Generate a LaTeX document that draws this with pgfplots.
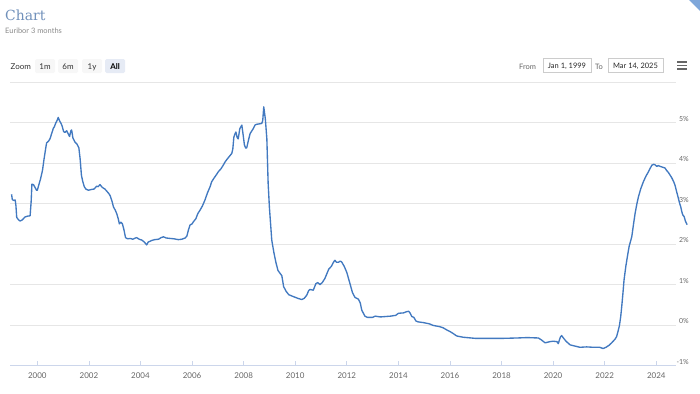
\documentclass[border=0pt]{standalone}
\usepackage{pgfplots}
\pgfplotsset{compat=1.18}
\usepackage{fontspec}
\setmainfont{Lato}
\newfontfamily\titlefont{DejaVu Serif}
\definecolor{serie}{HTML}{4279C0}
\definecolor{titlec}{HTML}{7090BA}
\definecolor{subc}{HTML}{8A8A8A}
\definecolor{gridc}{HTML}{E6E6E6}
\definecolor{axisc}{HTML}{CCD6EB}
\definecolor{labc}{HTML}{666666}
\definecolor{btnc}{HTML}{F7F7F7}
\definecolor{btnsel}{HTML}{E6EBF5}
\definecolor{boxc}{HTML}{CCCCCC}
\definecolor{cornerc}{HTML}{7FA7DA}

\pgfplotstableread{
t v
1999.00 3.23
1999.03 3.10
1999.08 3.08
1999.14 3.09
1999.17 2.95
1999.20 2.66
1999.27 2.60
1999.33 2.57
1999.42 2.60
1999.52 2.67
1999.62 2.69
1999.72 2.70
1999.76 3.05
1999.79 3.48
1999.85 3.47
1999.91 3.40
1999.97 3.33
2000.00 3.33
2000.06 3.47
2000.12 3.60
2000.20 3.82
2000.26 4.10
2000.32 4.35
2000.36 4.50
2000.44 4.55
2000.49 4.60
2000.55 4.72
2000.62 4.86
2000.66 4.90
2000.72 5.00
2000.77 5.06
2000.81 5.13
2000.86 5.05
2000.92 4.98
2000.96 4.92
2001.02 4.78
2001.07 4.76
2001.14 4.80
2001.20 4.72
2001.25 4.66
2001.30 4.80
2001.33 4.82
2001.38 4.62
2001.46 4.52
2001.54 4.47
2001.61 4.38
2001.66 4.10
2001.71 3.70
2001.76 3.55
2001.82 3.42
2001.88 3.36
2001.98 3.33
2002.10 3.35
2002.20 3.36
2002.30 3.43
2002.36 3.42
2002.43 3.47
2002.52 3.40
2002.62 3.36
2002.69 3.31
2002.77 3.25
2002.82 3.20
2002.90 3.05
2002.95 2.92
2003.02 2.84
2003.08 2.75
2003.14 2.62
2003.18 2.50
2003.24 2.54
2003.30 2.50
2003.36 2.35
2003.42 2.16
2003.50 2.13
2003.60 2.14
2003.70 2.12
2003.80 2.15
2003.85 2.16
2003.95 2.12
2004.05 2.10
2004.15 2.05
2004.24 1.98
2004.30 2.05
2004.44 2.09
2004.55 2.11
2004.70 2.12
2004.80 2.16
2004.89 2.18
2005.00 2.15
2005.15 2.14
2005.30 2.13
2005.47 2.11
2005.60 2.12
2005.73 2.15
2005.80 2.20
2005.86 2.35
2005.92 2.47
2006.00 2.50
2006.05 2.55
2006.15 2.63
2006.22 2.75
2006.31 2.84
2006.40 2.94
2006.50 3.09
2006.60 3.27
2006.70 3.42
2006.76 3.54
2006.85 3.63
2006.95 3.72
2007.02 3.79
2007.12 3.86
2007.20 3.94
2007.28 4.03
2007.36 4.10
2007.45 4.17
2007.54 4.24
2007.58 4.35
2007.62 4.64
2007.66 4.72
2007.70 4.77
2007.75 4.63
2007.79 4.60
2007.85 4.85
2007.93 4.94
2007.98 4.70
2008.03 4.45
2008.08 4.37
2008.12 4.38
2008.18 4.55
2008.25 4.73
2008.32 4.80
2008.38 4.86
2008.44 4.94
2008.50 4.96
2008.60 4.97
2008.70 4.98
2008.74 5.05
2008.78 5.39
2008.84 5.10
2008.90 4.60
2008.95 3.50
2009.00 2.90
2009.09 2.10
2009.17 1.80
2009.25 1.55
2009.33 1.35
2009.42 1.27
2009.48 1.22
2009.55 0.95
2009.65 0.83
2009.75 0.75
2009.90 0.71
2010.10 0.66
2010.25 0.63
2010.35 0.66
2010.45 0.74
2010.52 0.85
2010.57 0.88
2010.70 0.86
2010.80 1.02
2010.87 1.05
2010.96 1.00
2011.05 1.05
2011.15 1.15
2011.30 1.38
2011.40 1.45
2011.50 1.57
2011.54 1.60
2011.60 1.55
2011.67 1.55
2011.75 1.58
2011.80 1.56
2011.90 1.45
2012.00 1.30
2012.12 1.03
2012.22 0.80
2012.32 0.68
2012.45 0.64
2012.52 0.55
2012.58 0.37
2012.70 0.22
2012.80 0.19
2013.00 0.19
2013.10 0.22
2013.30 0.20
2013.50 0.21
2013.70 0.22
2013.90 0.24
2014.00 0.29
2014.20 0.30
2014.32 0.33
2014.40 0.34
2014.45 0.30
2014.52 0.21
2014.60 0.19
2014.68 0.10
2014.75 0.08
2014.97 0.06
2015.20 0.03
2015.35 -0.01
2015.60 -0.04
2015.74 -0.07
2015.90 -0.13
2016.00 -0.16
2016.15 -0.22
2016.26 -0.27
2016.50 -0.30
2016.65 -0.31
2017.00 -0.33
2017.50 -0.33
2018.00 -0.33
2018.60 -0.32
2019.00 -0.31
2019.43 -0.32
2019.55 -0.37
2019.69 -0.44
2019.88 -0.41
2020.00 -0.40
2020.15 -0.41
2020.20 -0.46
2020.28 -0.30
2020.33 -0.26
2020.40 -0.32
2020.50 -0.40
2020.66 -0.49
2020.85 -0.52
2021.04 -0.55
2021.30 -0.54
2021.56 -0.55
2021.80 -0.55
2021.94 -0.58
2022.05 -0.55
2022.17 -0.50
2022.27 -0.44
2022.40 -0.35
2022.46 -0.29
2022.52 -0.15
2022.57 -0.02
2022.62 0.20
2022.66 0.45
2022.71 0.80
2022.75 1.11
2022.82 1.45
2022.88 1.69
2022.95 1.95
2023.05 2.18
2023.12 2.50
2023.18 2.76
2023.25 3.00
2023.31 3.17
2023.40 3.37
2023.50 3.54
2023.60 3.68
2023.70 3.79
2023.77 3.88
2023.83 3.95
2023.90 3.97
2023.95 3.96
2024.02 3.92
2024.08 3.94
2024.15 3.92
2024.25 3.90
2024.34 3.88
2024.40 3.82
2024.47 3.77
2024.54 3.70
2024.60 3.64
2024.67 3.55
2024.73 3.45
2024.78 3.32
2024.85 3.15
2024.90 3.02
2024.95 2.92
2024.99 2.80
2025.03 2.72
2025.08 2.68
2025.13 2.57
2025.18 2.50
2025.20 2.48
}\euribor

\begin{document}
\begin{tikzpicture}[x=1bp,y=1bp]
\useasboundingbox (0,0) rectangle (700,393);
% corner mark
\fill[cornerc] (689,393) -- (700,393) -- (700,382) -- cycle;
% title and subtitle
\node[anchor=base west, inner sep=0, text=titlec, font=\titlefont\fontsize{14}{16}\selectfont] at (5,373) {Chart};
\node[anchor=base west, inner sep=0, text=subc, font=\fontsize{7.5}{9}\selectfont] at (5,359.5) {Euribor 3 months};
% range selector
\node[anchor=base west, inner sep=0, text=black!80, font=\fontsize{8}{9}\selectfont] at (10.5,324) {Zoom};
\fill[btnc, rounded corners=1.5bp] (35,320) rectangle (55,334);
\fill[btnc, rounded corners=1.5bp] (58,320) rectangle (78,334);
\fill[btnc, rounded corners=1.5bp] (82,320) rectangle (102,334);
\fill[btnsel, rounded corners=1.5bp] (105,320) rectangle (125,334);
\node[anchor=base, inner sep=0, text=black!80, font=\fontsize{8}{9}\selectfont] at (45,324) {1m};
\node[anchor=base, inner sep=0, text=black!80, font=\fontsize{8}{9}\selectfont] at (68,324) {6m};
\node[anchor=base, inner sep=0, text=black!80, font=\fontsize{8}{9}\selectfont] at (92,324) {1y};
\node[anchor=base, inner sep=0, text=black, font=\bfseries\fontsize{8}{9}\selectfont] at (115,324) {All};
% date inputs
\node[anchor=base west, inner sep=0, text=labc, font=\fontsize{7.5}{9}\selectfont] at (519,324) {From};
\draw[boxc, line width=0.6bp] (543,321) rectangle (591,335);
\node[anchor=base, inner sep=0, text=black!85, font=\fontsize{7.5}{9}\selectfont] at (567,324.5) {Jan 1, 1999};
\node[anchor=base west, inner sep=0, text=labc, font=\fontsize{7.5}{9}\selectfont] at (595,324) {To};
\draw[boxc, line width=0.6bp] (608,321) rectangle (663,335);
\node[anchor=base, inner sep=0, text=black!85, font=\fontsize{7.5}{9}\selectfont] at (635.5,324.5) {Mar 14, 2025};
% menu icon
\draw[labc, line width=1.5bp] (677,331) -- (687,331) (677,327.5) -- (687,327.5) (677,324) -- (687,324);
\begin{axis}[
  at={(10bp,27.5bp)}, anchor=south west,
  scale only axis, width=666bp, height=283.3bp,
  xmin=1998.94, xmax=2024.766, ymin=-1, ymax=6,
  clip=false,
  axis x line*=bottom, axis y line*=right,
  x axis line style={draw=axisc, line width=0.8bp},
  y axis line style={draw=none},
  ymajorgrids, grid style={draw=gridc, line width=0.8bp},
  xtick={2000,2002,...,2024},
  xticklabels={2000,2002,2004,2006,2008,2010,2012,2014,2016,2018,2020,2022,2024},
  ytick={-1,0,...,6},
  yticklabels={-1\%,0\%,1\%,2\%,3\%,4\%,5\%,{}},
  tick align=inside, major tick length=5bp,
  xtick style={draw=axisc, line width=0.8bp},
  ytick style={draw=none},
  xticklabel style={font=\fontsize{8}{9}\selectfont, text=labc, anchor=base, inner sep=0pt, yshift=-12.5bp},
  yticklabel style={font=\fontsize{7}{9}\selectfont, text=labc, anchor=base east, inner sep=0pt, xshift=13bp, yshift=1.2bp},
]
\addplot[serie, line width=1.35bp, line join=round, no marks] table[x=t, y=v] {\euribor};
\end{axis}
\end{tikzpicture}
\end{document}
